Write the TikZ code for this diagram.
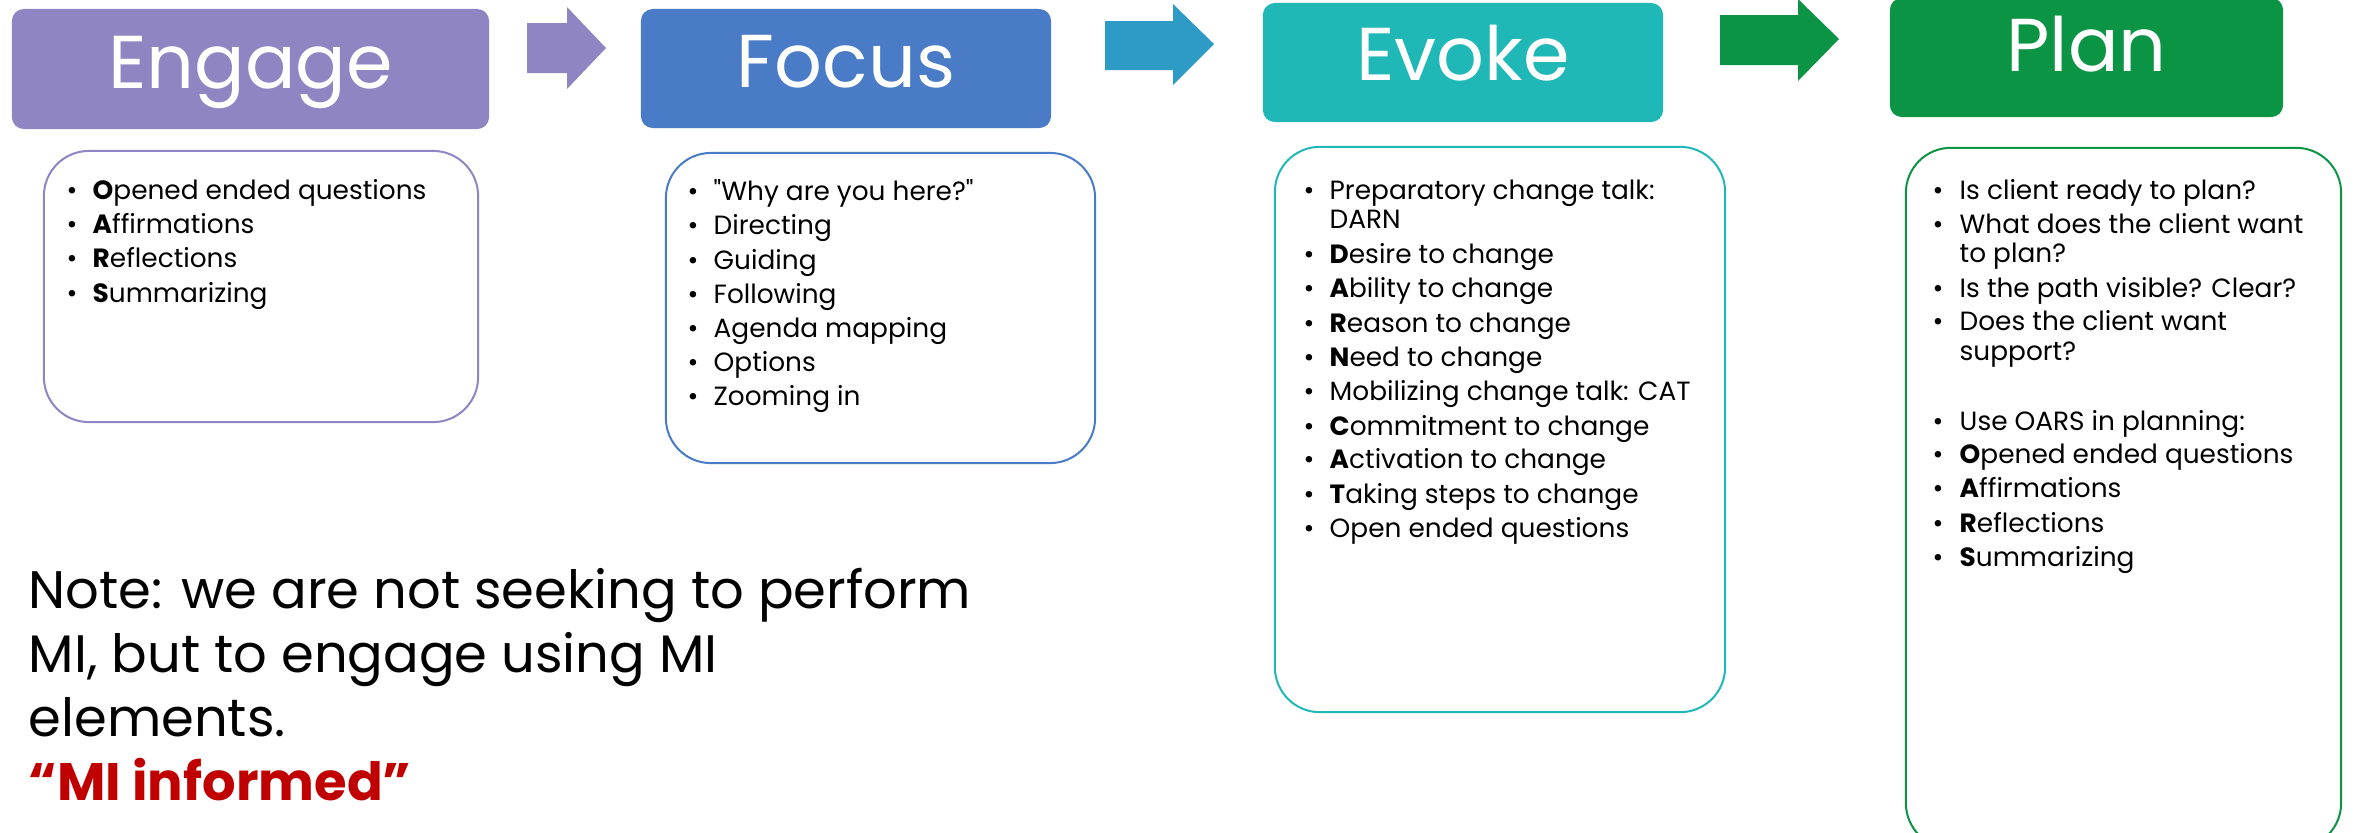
\documentclass[tikz,border=0pt]{standalone}
\usepackage{fontspec}
\setmainfont{Poppins}[Ligatures=TeXOff]
\definecolor{engagecolor}{HTML}{8E85C2}
\definecolor{focuscolor}{HTML}{4A7BC7}
\definecolor{focusarrow}{HTML}{2E9AC6}
\definecolor{evokecolor}{HTML}{20B7B7}
\definecolor{plancolor}{HTML}{0B9444}
\definecolor{notered}{HTML}{C00000}
\tikzset{
  header/.style={rectangle, rounded corners=0.12cm, inner sep=0pt},
  title/.style={anchor=base, text=white, inner sep=0pt, font=\fontsize{21.3pt}{21.3pt}\selectfont},
  listbox/.style={draw, line width=0.02cm, fill=white, rectangle, rounded corners=0.45cm, inner sep=0pt},
  item/.style={anchor=base west, inner sep=0pt, font=\fontsize{7.5pt}{7.5pt}\selectfont},
  bul/.style={anchor=base, inner sep=0pt, font=\fontsize{7.5pt}{7.5pt}\selectfont},
  note/.style={anchor=base west, inner sep=0pt, font=\fontsize{15pt}{15pt}\selectfont}
}

\begin{document}
\begin{tikzpicture}[x=0.01cm, y=-0.01cm]%
\useasboundingbox (0,0) rectangle (2359,832);%
% headers
\node[header, fill=engagecolor, minimum width=4.77cm, minimum height=1.20cm] (engage) at (250.5, 69) {};%
\node[title] (engagetitle) at (250.5, 88) {Engage};%
\node[header, fill=focuscolor, minimum width=4.10cm, minimum height=1.19cm] (focus) at (846, 68.5) {};%
\node[title] (focustitle) at (846, 87) {Focus};%
\node[header, fill=evokecolor, minimum width=4.00cm, minimum height=1.19cm] (evoke) at (1463, 62.5) {};%
\node[title] (evoketitle) at (1463, 80) {Evoke};%
\node[header, fill=plancolor, minimum width=3.93cm, minimum height=1.19cm] (plan) at (2086.5, 57.5) {};%
\node[title] (plantitle) at (2086.5, 71) {Plan};%
% block arrows
\fill[engagecolor] (527,23) -- (567,23) -- (567,7) -- (606,48) -- (567,89) -- (567,73) -- (527,73) -- cycle;%
\fill[focusarrow] (1105,21) -- (1173,21) -- (1173,4) -- (1214,44) -- (1173,85) -- (1173,70) -- (1105,70) -- cycle;%
\fill[plancolor] (1720,15) -- (1798,15) -- (1798,-1) -- (1839,39) -- (1798,81) -- (1798,65) -- (1720,65) -- cycle;%
% list boxes
\node[listbox, draw=engagecolor, minimum width=4.34cm, minimum height=2.71cm] (engagebox) at (261, 286.5) {};%
\node[listbox, draw=focuscolor, minimum width=4.29cm, minimum height=3.10cm] (focusbox) at (880.5, 308) {};%
\node[listbox, draw=evokecolor, minimum width=4.50cm, minimum height=5.65cm] (evokebox) at (1500, 429.5) {};%
\node[listbox, draw=plancolor, minimum width=4.35cm, minimum height=7.00cm] (planbox) at (2123.5, 498) {};%
% engage list
\node[bul] (eb1) at (72, 199) {\textbullet};%
\node[item] (e1) at (92, 199) {\textbf{O}pened ended questions};%
\node[bul] (eb2) at (72, 233) {\textbullet};%
\node[item] (e2) at (92, 233) {\textbf{A}ffirmations};%
\node[bul] (eb3) at (72, 267) {\textbullet};%
\node[item] (e3) at (92, 267) {\textbf{R}eflections};%
\node[bul] (eb4) at (72, 302) {\textbullet};%
\node[item] (e4) at (92, 302) {\textbf{S}ummarizing};%
% focus list
\node[bul] (fb1) at (693, 200) {\textbullet};%
\node[item] (f1) at (713, 200) {"Why are you here?"};%
\node[bul] (fb2) at (693, 234) {\textbullet};%
\node[item] (f2) at (713, 234) {Directing};%
\node[bul] (fb3) at (693, 269) {\textbullet};%
\node[item] (f3) at (713, 269) {Guiding};%
\node[bul] (fb4) at (693, 303) {\textbullet};%
\node[item] (f4) at (713, 303) {Following};%
\node[bul] (fb5) at (693, 337) {\textbullet};%
\node[item] (f5) at (713, 337) {Agenda mapping};%
\node[bul] (fb6) at (693, 371) {\textbullet};%
\node[item] (f6) at (713, 371) {Options};%
\node[bul] (fb7) at (693, 405) {\textbullet};%
\node[item] (f7) at (713, 405) {Zooming in};%
% evoke list
\node[bul] (vb1) at (1309, 199) {\textbullet};%
\node[item] (v1) at (1329, 199) {Preparatory change talk:};%
\node[item] (v1b) at (1329, 228) {DARN};%
\node[bul] (vb2) at (1309, 263) {\textbullet};%
\node[item] (v2) at (1329, 263) {\textbf{D}esire to change};%
\node[bul] (vb3) at (1309, 297) {\textbullet};%
\node[item] (v3) at (1329, 297) {\textbf{A}bility to change};%
\node[bul] (vb4) at (1309, 332) {\textbullet};%
\node[item] (v4) at (1329, 332) {\textbf{R}eason to change};%
\node[bul] (vb5) at (1309, 366) {\textbullet};%
\node[item] (v5) at (1329, 366) {\textbf{N}eed to change};%
\node[bul] (vb6) at (1309, 400) {\textbullet};%
\node[item] (v6) at (1329, 400) {Mobilizing change talk: CAT};%
\node[bul] (vb7) at (1309, 435) {\textbullet};%
\node[item] (v7) at (1329, 435) {\textbf{C}ommitment to change};%
\node[bul] (vb8) at (1309, 468) {\textbullet};%
\node[item] (v8) at (1329, 468) {\textbf{A}ctivation to change};%
\node[bul] (vb9) at (1309, 503) {\textbullet};%
\node[item] (v9) at (1329, 503) {\textbf{T}aking steps to change};%
\node[bul] (vb10) at (1309, 537) {\textbullet};%
\node[item] (v10) at (1329, 537) {Open ended questions};%
% plan list
\node[bul] (pb1) at (1938, 199) {\textbullet};%
\node[item] (p1) at (1959, 199) {Is client ready to plan?};%
\node[bul] (pb2) at (1938, 233) {\textbullet};%
\node[item] (p2) at (1959, 233) {What does the client want};%
\node[item] (p2b) at (1959, 262) {to plan?};%
\node[bul] (pb3) at (1938, 297) {\textbullet};%
\node[item] (p3) at (1959, 297) {Is the path visible? Clear?};%
\node[bul] (pb4) at (1938, 330) {\textbullet};%
\node[item] (p4) at (1959, 330) {Does the client want};%
\node[item] (p4b) at (1959, 360) {support?};%
\node[bul] (pb5) at (1938, 430) {\textbullet};%
\node[item] (p5) at (1959, 430) {Use OARS in planning:};%
\node[bul] (pb6) at (1938, 463) {\textbullet};%
\node[item] (p6) at (1959, 463) {\textbf{O}pened ended questions};%
\node[bul] (pb7) at (1938, 497) {\textbullet};%
\node[item] (p7) at (1959, 497) {\textbf{A}ffirmations};%
\node[bul] (pb8) at (1938, 532) {\textbullet};%
\node[item] (p8) at (1959, 532) {\textbf{R}eflections};%
\node[bul] (pb9) at (1938, 566) {\textbullet};%
\node[item] (p9) at (1959, 566) {\textbf{S}ummarizing};%
% note
\node[note] (note1) at (28, 608) {Note: we are not seeking to perform};%
\node[note] (note2) at (28, 672) {MI, but to engage using MI};%
\node[note] (note3) at (28, 736) {elements.};%
\node[note, text=notered, font=\fontsize{15pt}{15pt}\selectfont\bfseries] (note4) at (28, 800) {“MI informed”};%
\end{tikzpicture}
\end{document}
